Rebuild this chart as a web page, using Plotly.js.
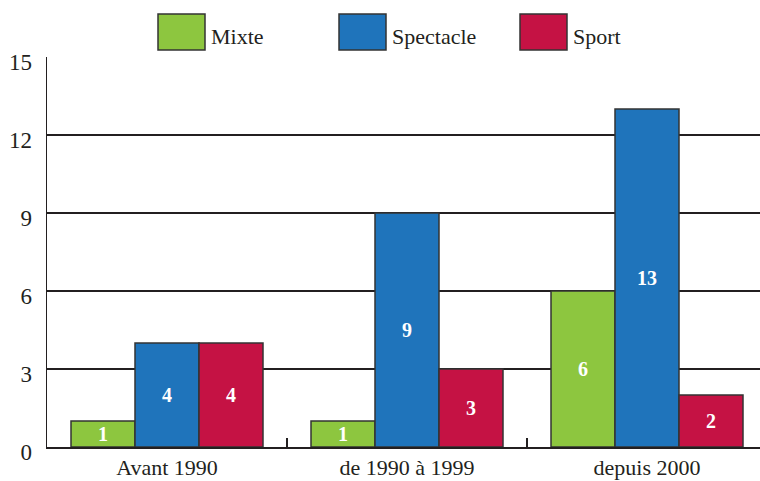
<!DOCTYPE html>
<html>
<head>
<meta charset="utf-8">
<script src="https://cdn.plot.ly/plotly-3.0.1.min.js"></script>
<style>html,body{margin:0;padding:0;background:#fff;}#chart{width:760px;height:481px;}</style>
</head>
<body>
<div id="chart"></div>
<script>
// Data
const categories = ["Avant 1990", "de 1990 à 1999", "depuis 2000"];
const seriesNames = ["Mixte", "Spectacle", "Sport"];
const mixte = [1, 1, 6];
const spectacle = [4, 9, 13];
const sport = [4, 3, 2];
const yTicks = [0, 3, 6, 9, 12, 15];

const colors = ["#8dc63f", "#1f74bb", "#c51244"];
const seriesValues = [mixte, spectacle, sport];

const W = 760, H = 481;
const M = {l: 47, r: 0, t: 57, b: 34};
const plotW = W - M.l - M.r;
const plotH = H - M.t - M.b;
const catPx = 240;
const xEnd = -0.5 + plotW / catPx;

const fontFam = "Liberation Serif, DejaVu Serif, serif";
const ink = "#231f20";

const traces = seriesValues.map((vals, i) => ({
  type: "bar",
  name: seriesNames[i],
  x: categories,
  y: vals,
  marker: {color: colors[i], line: {color: "#333333", width: 1.5}},
  text: vals.map(String),
  textposition: "inside",
  insidetextanchor: "middle",
  textangle: 0,
  constraintext: "none",
  textfont: {family: fontFam, size: 20, color: "#ffffff", weight: "bold"},
  showlegend: false,
  hoverinfo: "skip"
}));

// custom legend (large swatches)
const px2x = px => (px - M.l) / plotW;
const px2y = py => (H - M.b - py) / plotH;
const shapes = [];
const annotations = [];
const swatchX = [158, 339, 520];
seriesNames.forEach((n, i) => {
  shapes.push({
    type: "rect", xref: "paper", yref: "paper",
    x0: px2x(swatchX[i]), x1: px2x(swatchX[i] + 47),
    y0: px2y(50), y1: px2y(14),
    fillcolor: colors[i], line: {color: "#333333", width: 1.5}
  });
  annotations.push({
    xref: "paper", yref: "paper",
    x: px2x(swatchX[i] + 51), y: px2y(37),
    xanchor: "left", yanchor: "middle",
    text: n, showarrow: false,
    font: {family: fontFam, size: 22, color: ink}
  });
});

const layout = {
  width: W, height: H,
  margin: M,
  paper_bgcolor: "#ffffff",
  plot_bgcolor: "#ffffff",
  barmode: "group",
  bargap: 0.2,
  bargroupgap: 0,
  font: {family: fontFam, size: 22, color: ink},
  xaxis: {
    type: "category",
    range: [-0.5, xEnd],
    showline: true, linecolor: ink, linewidth: 1.5,
    ticks: "inside", tickson: "boundaries", ticklen: 9, tickwidth: 1.2, tickcolor: ink,
    showgrid: false, zeroline: false,
    tickfont: {family: fontFam, size: 22, color: ink},
    fixedrange: true
  },
  yaxis: {
    range: [0, 15],
    tickvals: yTicks,
    ticktext: yTicks.map(String),
    showline: true, linecolor: ink, linewidth: 1.5,
    showgrid: true, gridcolor: ink, gridwidth: 1.5,
    zeroline: false,
    ticks: "",
    ticklabelstandoff: 9,
    ticklabelshift: 5,
    tickfont: {family: fontFam, size: 23, color: ink},
    fixedrange: true
  },
  shapes: shapes,
  annotations: annotations
};

Plotly.newPlot("chart", traces, layout, {displayModeBar: false, staticPlot: true});
</script>
</body>
</html>
